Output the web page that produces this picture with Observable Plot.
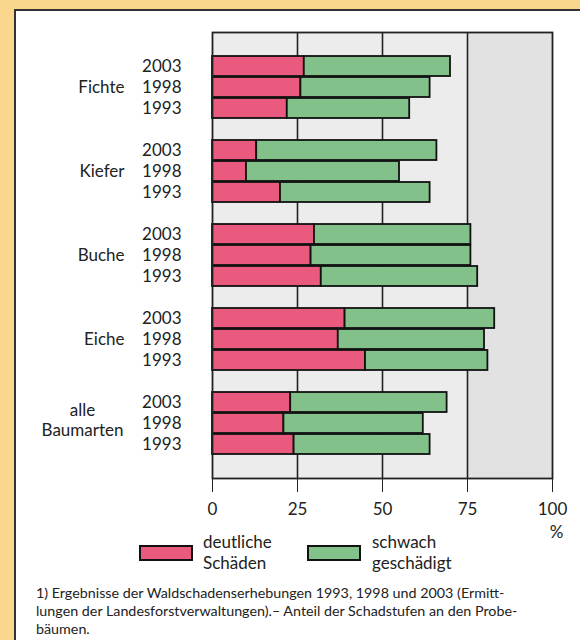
<!DOCTYPE html>
<html><head><meta charset="utf-8">
<script src="https://cdn.jsdelivr.net/npm/d3@7"></script>
<script src="https://cdn.jsdelivr.net/npm/@observablehq/plot@0.6"></script>
<style>
html,body{margin:0;padding:0;}
body{width:580px;height:640px;background:#fbd78e;position:relative;overflow:hidden;font-family:Lato,"DejaVu Sans",sans-serif;color:#222;}
#panel{position:absolute;left:14px;top:9px;width:566px;height:631px;background:#fff;border-left:2px solid #333;border-top:2px solid #333;}
#chart{position:absolute;left:0;top:0;}
.sw{position:absolute;top:545px;width:50px;height:12px;border:2px solid #111;}
.lt{position:absolute;top:531px;font-size:17px;line-height:21px;white-space:nowrap;}
#foot{position:absolute;left:36px;top:584px;font-size:14.3px;line-height:18px;white-space:nowrap;}
</style></head>
<body>
<div id="panel"></div>
<div id="chart"></div>
<div id="legend"></div>
<div id="foot"></div>
<script>
const species = ["Fichte", "Kiefer", "Buche", "Eiche", "alle\nBaumarten"];
const years = ["2003", "1998", "1993"];
// deutliche Schäden (%), per species, years 2003/1998/1993
const deutlich = [[27, 26, 22], [13, 10, 20], [30, 29, 32], [39, 37, 45], [23, 21, 24]];
// schwach geschädigt (%), stacked after deutliche Schäden
const schwach = [[43, 38, 36], [53, 45, 44], [46, 47, 46], [44, 43, 36], [46, 41, 40]];
const xTicks = [0, 25, 50, 75, 100];
const seriesNames = ["deutliche Schäden", "schwach geschädigt"];
const legendLines = [["deutliche", "Schäden"], ["schwach", "geschädigt"]];
const colors = ["#ea5a7e", "#82c28a"];
const footnote = [
  "1) Ergebnisse der Waldschadenserhebungen 1993, 1998 und 2003 (Ermitt-",
  "lungen der Landesforstverwaltungen).\u2013 Anteil der Schadstufen an den Probe-",
  "bäumen."
];

const slots = [];
const rows = [];
const yearRows = [];
const speciesRows = [];
species.forEach((s, i) => {
  slots.push("gap" + i);
  years.forEach((y, j) => {
    const key = s + "|" + y;
    slots.push(key);
    yearRows.push({key, year: y});
    rows.push({key, type: seriesNames[0], value: deutlich[i][j]});
    rows.push({key, type: seriesNames[1], value: schwach[i][j]});
  });
  speciesRows.push({key: s + "|" + years[1], label: s, multi: s.includes("\n")});
});
slots.push("gapEnd");

const chart = Plot.plot({
  width: 580,
  height: 540,
  marginTop: 32,
  marginBottom: 62,
  marginLeft: 212,
  marginRight: 28,
  style: {fontFamily: "Lato, 'DejaVu Sans', sans-serif", fontSize: "17px", background: "transparent", color: "#222"},
  x: {domain: [0, 100], ticks: xTicks, tickSize: 14, tickPadding: 10, label: null},
  y: {domain: slots, paddingInner: 0.06, paddingOuter: 0, axis: null},
  color: {domain: seriesNames, range: colors},
  marks: [
    Plot.rect([{a: xTicks[0], b: xTicks[3]}], {x1: "a", x2: "b", fill: "#ececec"}),
    Plot.rect([{a: xTicks[3], b: xTicks[4]}], {x1: "a", x2: "b", fill: "#e2e2e2"}),
    Plot.ruleX(xTicks.slice(1, 4), {stroke: "#222", strokeWidth: 1.6}),
    Plot.barX(rows, {x: "value", y: "key", fill: "type", stroke: "#111", strokeWidth: 1.8}),
    Plot.frame({stroke: "#222", strokeWidth: 1.8}),
    Plot.text(yearRows, {y: "key", text: "year", frameAnchor: "left", textAnchor: "end", dx: -31, fontSize: 17}),
    Plot.text(speciesRows.filter(d => !d.multi), {y: "key", text: "label", frameAnchor: "left", textAnchor: "end", dx: -88, fontSize: 17}),
    Plot.text(speciesRows.filter(d => d.multi), {y: "key", text: "label", frameAnchor: "left", textAnchor: "middle", dx: -130, dy: -4, lineHeight: 1.2, fontSize: 17}),
    Plot.text(["%"], {frameAnchor: "bottom-right", dx: 11, dy: 59, fontSize: 17})
  ]
});
document.getElementById("chart").appendChild(chart);

const legend = document.getElementById("legend");
const swX = [139, 307], txX = [203, 372];
seriesNames.forEach((n, i) => {
  const sw = document.createElement("div");
  sw.className = "sw";
  sw.style.left = swX[i] + "px";
  sw.style.background = colors[i];
  legend.appendChild(sw);
  const t = document.createElement("div");
  t.className = "lt";
  t.style.left = txX[i] + "px";
  t.innerHTML = legendLines[i].join("<br>");
  legend.appendChild(t);
});
document.getElementById("foot").innerHTML = footnote.join("<br>");
</script>
</body></html>
